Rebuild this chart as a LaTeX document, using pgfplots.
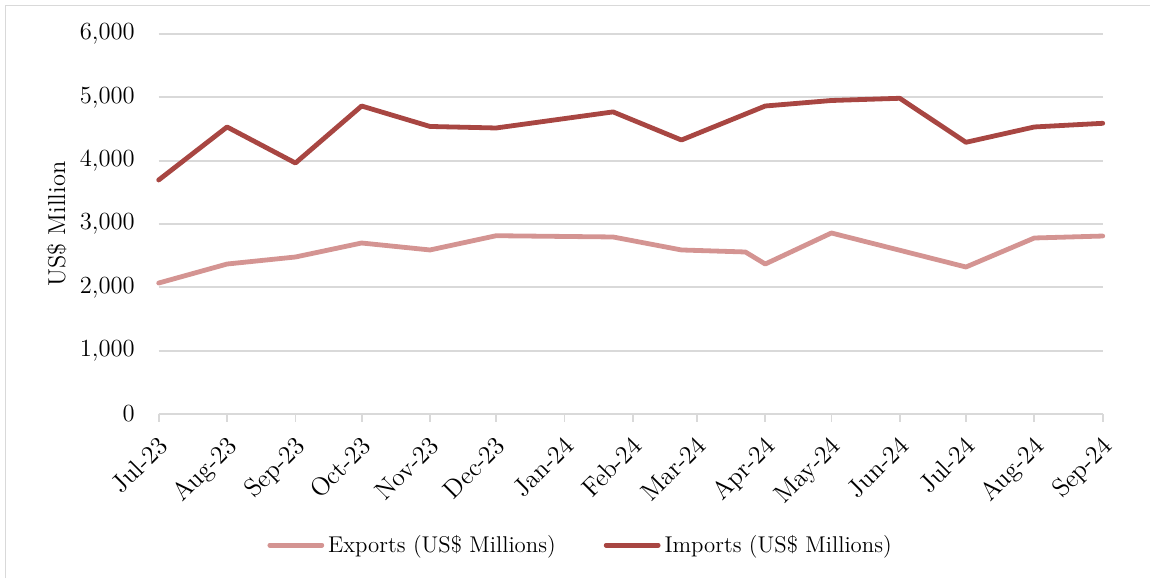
\documentclass[border=0pt]{standalone}
\usepackage{pgfplots}
\pgfplotsset{compat=1.18}
\definecolor{expc}{RGB}{212,148,146}
\definecolor{impc}{RGB}{168,70,66}
\definecolor{gridc}{RGB}{217,217,217}
\begin{document}
\begin{tikzpicture}
\useasboundingbox (0,0) rectangle (575pt,289pt);
\draw[gridc, line width=0.8pt] (2.8pt,0) -- (2.8pt,286.2pt) -- (575pt,286.2pt);
\begin{axis}[
  at={(79.35pt,82pt)}, anchor=south west,
  scale only axis, width=472pt, height=190pt,
  xmin=0, xmax=428, ymin=0, ymax=6000,
  axis x line*=bottom, axis y line*=left,
  x axis line style={gridc, line width=0.9pt, -},
  y axis line style={draw=none},
  xtick={0,31,62,92,123,153,184,215,244,275,305,336,366,397,428},
  xticklabels={Jul-23,Aug-23,Sep-23,Oct-23,Nov-23,Dec-23,Jan-24,Feb-24,Mar-24,Apr-24,May-24,Jun-24,Jul-24,Aug-24,Sep-24},
  ytick={0,1000,2000,3000,4000,5000,6000},
  yticklabels={0,{1,000},{2,000},{3,000},{4,000},{5,000},{6,000}},
  ymajorgrids, grid style={gridc, line width=0.9pt},
  tick align=outside, major tick length=3.75pt,
  xtick style={gridc, line width=0.9pt},
  ytick style={draw=none},
  x tick label style={font=\fontsize{12.8}{14}\selectfont, xshift=-1pt, yshift=-5pt, rotate=45, anchor=north east, inner sep=1pt},
  y tick label style={font=\fontsize{12.3}{14}\selectfont, anchor=east, inner sep=0pt, xshift=-8pt},
  ylabel={US\$ Million},
  ylabel style={font=\fontsize{12.2}{14}\selectfont, at={(axis description cs:-0.108,0.5)}, anchor=center},
  legend style={at={(axis description cs:0.448,-0.345)}, anchor=center, draw=none, fill=none,
    font=\fontsize{11.4}{13}\selectfont, legend columns=2,
    /tikz/every even column/.append style={column sep=22pt}},
  legend image code/.code={\draw[#1, line cap=round] (0pt,0pt) -- (26pt,0pt);},
  clip=false,
]
\addplot[expc, line width=2.4pt, line cap=round, line join=round] coordinates {
(0,2068) (31,2368) (62,2479) (92,2700) (123,2590) (153,2815) (206,2795) (237,2590) (266,2558) (275,2368) (305,2858) (366,2321) (397,2779) (428,2810)};
\addlegendentry{Exports (US\$ Millions)}
\addplot[impc, line width=2.4pt, line cap=round, line join=round] coordinates {
(0,3695) (31,4532) (62,3963) (92,4863) (123,4540) (153,4516) (206,4770) (237,4326) (275,4863) (305,4950) (336,4985) (366,4290) (397,4532) (428,4590)};
\addlegendentry{Imports (US\$ Millions)}
\end{axis}
\end{tikzpicture}
\end{document}
